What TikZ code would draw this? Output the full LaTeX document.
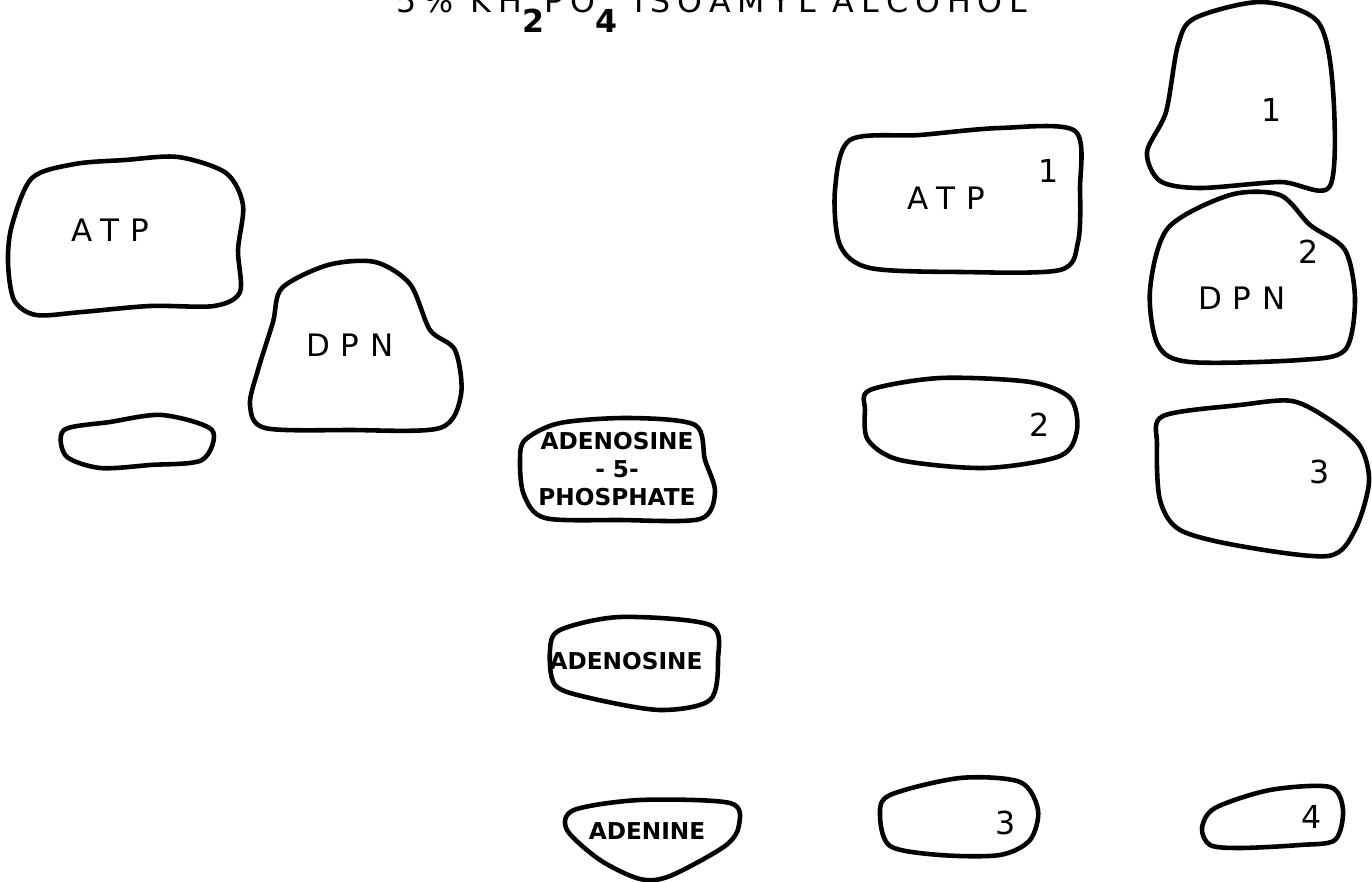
\documentclass[tikz,border=0pt]{standalone}
\usepackage{fontspec}
\newfontfamily\spotfont[LetterSpace=35]{DejaVu Sans}
\newfontfamily\headfont[LetterSpace=22]{DejaVu Sans}
\newfontfamily\tagfont{DejaVu Sans}
\newcommand{\lowsub}[1]{\raisebox{-1.1ex}{\bfseries #1}}

\begin{document}
\begin{tikzpicture}[
  x=0.01cm, y=-0.01cm,
  blob/.style={line width=1.3pt, line join=round},
  lbl/.style={font=\spotfont\fontsize{8.8}{9}\selectfont, inner sep=0pt},
  small/.style={font=\tagfont\bfseries\fontsize{6.6}{7.9}\selectfont, inner sep=0pt, align=center},
  num/.style={font=\tagfont\fontsize{9}{10}\selectfont, inner sep=0pt}
]
  \useasboundingbox (0,0) rectangle (1372,882);

  \node[font=\headfont\fontsize{9}{10}\selectfont, inner sep=0pt, anchor=base] (title) at (712,13)
    {5\% KH\lowsub{2}PO\lowsub{4} ISOAMYL ALCOHOL};

  % left lane
  \draw[blob] plot[smooth cycle] coordinates {(12,225) (32,178) (75,164) (125,160) (178,157) (226,173) (243,205) (238,250) (240,292) (214,306) (150,306) (82,312) (36,315) (14,300) (8,262)};
  \node[lbl] (atpA) at (110,230) {ATP};

  \draw[blob] plot[smooth cycle] coordinates {(282,288) (328,265) (375,262) (410,284) (430,330) (455,350) (461,395) (440,428) (350,430) (265,428) (250,405) (258,370) (273,322)};
  \node[lbl] (dpnA) at (350,345) {DPN};

  \draw[blob] plot[smooth cycle] coordinates {(64,430) (110,422) (162,415) (212,430) (202,460) (150,465) (100,468) (66,456)};

  % standards
  \draw[blob] plot[smooth cycle] coordinates {(525,440) (560,423) (630,418) (695,425) (705,460) (715,492) (700,519) (620,520) (545,518) (524,495) (520,462)};
  \node[small] (amp) at (617,469) {ADENOSINE\\- 5-\\PHOSPHATE};

  \draw[blob] plot[smooth cycle] coordinates {(560,630) (620,617) (710,625) (718,660) (710,700) (660,710) (590,698) (555,685) (550,650)};
  \node[small] (ado) at (626,661) {ADENOSINE};

  \draw[blob] plot[smooth cycle] coordinates {(574,810) (640,800) (730,803) (739,825) (725,846) (670,876) (640,879) (600,860) (567,830)};
  \node[small] (ade) at (647,831) {ADENINE};

  % middle lane
  \draw[blob] plot[smooth cycle] coordinates {(850,140) (920,135) (1000,128) (1075,131) (1080,190) (1078,242) (1060,270) (960,272) (870,268) (840,245) (835,190)};
  \node[lbl] (atpB) at (946,198) {ATP};
  \node[num] (b1) at (1049,171) {1};

  \draw[blob] plot[smooth cycle] coordinates {(870,390) (940,378) (1030,382) (1070,398) (1077,430) (1060,456) (985,468) (900,460) (868,440) (865,410)};
  \node[num] (b2) at (1040,425) {2};

  \draw[blob] plot[smooth cycle] coordinates {(890,795) (960,778) (1020,782) (1038,810) (1030,840) (1000,855) (940,855) (890,846) (880,815)};
  \node[num] (b3) at (1006,823) {3};

  % right lane
  \draw[blob] plot[smooth cycle] coordinates {(1178,45) (1195,18) (1262,2) (1318,22) (1333,90) (1330,186) (1280,182) (1200,188) (1160,181) (1147,152) (1166,112)};
  \node[num] (c1) at (1272,110) {1};

  \draw[blob] plot[smooth cycle] coordinates {(1168,228) (1230,195) (1280,195) (1310,225) (1345,250) (1355,300) (1345,350) (1300,360) (1190,362) (1158,345) (1150,290)};
  \node[lbl] (dpnB) at (1242,298) {DPN};
  \node[num] (c2) at (1309,252) {2};

  \draw[blob] plot[smooth cycle] coordinates {(1163,416) (1240,405) (1292,401) (1330,420) (1360,446) (1369,482) (1355,530) (1328,556) (1240,546) (1180,530) (1160,500) (1157,445)};
  \node[num] (c3) at (1320,472) {3};

  \draw[blob] plot[smooth cycle] coordinates {(1215,808) (1270,790) (1330,787) (1343,810) (1335,840) (1300,845) (1240,848) (1210,845) (1202,828)};
  \node[num] (c4) at (1312,817) {4};
\end{tikzpicture}
\end{document}
